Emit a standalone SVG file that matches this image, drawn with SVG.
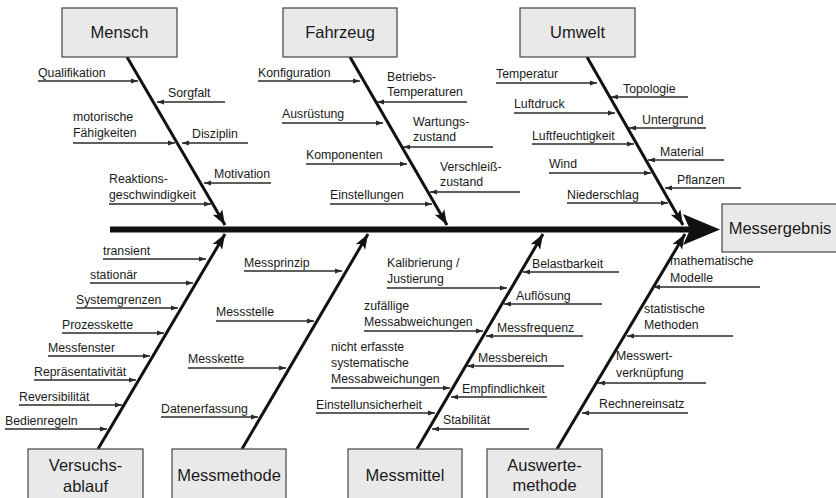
<svg xmlns="http://www.w3.org/2000/svg" width="836" height="498" viewBox="0 0 836 498">
<style>
.box{fill:#e9e9e9;stroke:#444;stroke-width:1.2}
.bt{font-family:"Liberation Sans",Arial,Helvetica,sans-serif;font-size:16.5px;fill:#1a1a1a;text-anchor:middle}
.t{font-family:"Liberation Sans",Arial,Helvetica,sans-serif;font-size:12.3px;fill:#1a1a1a}
.sub{stroke:#2a2a2a;stroke-width:1.4;fill:none;marker-end:url(#sa)}
.bone{stroke:#111;stroke-width:3;fill:none;marker-end:url(#ba)}
</style>
<defs>
<marker id="sa" markerUnits="userSpaceOnUse" markerWidth="8" markerHeight="6" refX="7" refY="2.5" orient="auto" overflow="visible"><path d="M0,0 L7,2.5 L0,5 z" fill="#2a2a2a"/></marker>
<marker id="ba" markerUnits="userSpaceOnUse" markerWidth="16" markerHeight="12" refX="15" refY="5.5" orient="auto" overflow="visible"><path d="M0,0 L15,5.5 L0,11 L3.5,5.5 z" fill="#111"/></marker>
</defs>
<rect width="836" height="498" fill="#fff"/>

<g id="connectors">
<line x1="110" y1="229.5" x2="690" y2="229.5" stroke="#111" stroke-width="6"/>
<path d="M683,214 L720,229.5 L683,245 L690,229.5 z" fill="#111"/>
<line class="bone" x1="127" y1="57" x2="225" y2="225"/>
<line class="bone" x1="350" y1="57" x2="447" y2="225"/>
<line class="bone" x1="587" y1="57" x2="683" y2="225"/>
<line class="bone" x1="98" y1="449" x2="225" y2="234"/>
<line class="bone" x1="242" y1="449" x2="368" y2="234"/>
<line class="bone" x1="417" y1="449" x2="543" y2="234"/>
<line class="bone" x1="557" y1="449" x2="685" y2="234"/>
</g>

<g id="mensch">
<rect class="box" x="62" y="8" width="115" height="49"/>
<text class="bt" x="119.5" y="38">Mensch</text>
<text class="t" x="38" y="77">Qualifikation</text><line class="sub" x1="38" y1="81" x2="138" y2="81"/>
<text class="t" x="73" y="121">motorische</text><text class="t" x="73" y="137">Fähigkeiten</text><line class="sub" x1="73" y1="143" x2="175" y2="143"/>
<text class="t" x="109" y="183">Reaktions-</text><text class="t" x="109" y="199">geschwindigkeit</text><line class="sub" x1="109" y1="204" x2="211" y2="204"/>
<text class="t" x="168" y="97">Sorgfalt</text><line class="sub" x1="225" y1="102" x2="157" y2="102"/>
<text class="t" x="192" y="138">Disziplin</text><line class="sub" x1="248" y1="143" x2="182" y2="143"/>
<text class="t" x="214" y="178">Motivation</text><line class="sub" x1="271" y1="183" x2="204" y2="183"/>
</g>

<g id="fahrzeug">
<rect class="box" x="283" y="8" width="114" height="49"/>
<text class="bt" x="340" y="38">Fahrzeug</text>
<text class="t" x="258" y="77">Konfiguration</text><line class="sub" x1="258" y1="81" x2="360" y2="81"/>
<text class="t" x="282" y="118">Ausrüstung</text><line class="sub" x1="282" y1="123" x2="383" y2="123"/>
<text class="t" x="306" y="159">Komponenten</text><line class="sub" x1="306" y1="164" x2="407" y2="164"/>
<text class="t" x="330" y="199">Einstellungen</text><line class="sub" x1="330" y1="204" x2="432" y2="204"/>
<text class="t" x="387" y="81">Betriebs-</text><text class="t" x="387" y="96">Temperaturen</text><line class="sub" x1="467" y1="102" x2="377" y2="102"/>
<text class="t" x="413" y="126">Wartungs-</text><text class="t" x="413" y="141">zustand</text><line class="sub" x1="493" y1="147" x2="403" y2="147"/>
<text class="t" x="440" y="171">Verschleiß-</text><text class="t" x="440" y="186">zustand</text><line class="sub" x1="520" y1="192" x2="430" y2="192"/>
</g>

<g id="umwelt">
<rect class="box" x="520" y="8" width="115" height="49"/>
<text class="bt" x="577.5" y="38">Umwelt</text>
<text class="t" x="496" y="78">Temperatur</text><line class="sub" x1="496" y1="83" x2="597" y2="83"/>
<text class="t" x="514" y="108">Luftdruck</text><line class="sub" x1="514" y1="113" x2="615" y2="113"/>
<text class="t" x="532" y="140">Luftfeuchtigkeit</text><line class="sub" x1="532" y1="144" x2="634" y2="144"/>
<text class="t" x="549" y="168">Wind</text><line class="sub" x1="549" y1="173" x2="651" y2="173"/>
<text class="t" x="567" y="199">Niederschlag</text><line class="sub" x1="567" y1="203" x2="668" y2="203"/>
<text class="t" x="623" y="93">Topologie</text><line class="sub" x1="688" y1="97" x2="611" y2="97"/>
<text class="t" x="642" y="124">Untergrund</text><line class="sub" x1="706" y1="128" x2="629" y2="128"/>
<text class="t" x="660" y="156">Material</text><line class="sub" x1="724" y1="160" x2="648" y2="160"/>
<text class="t" x="677" y="184">Pflanzen</text><line class="sub" x1="741" y1="188" x2="665" y2="188"/>
</g>

<g id="messergebnis">
<rect class="box" x="722" y="204" width="120" height="48"/>
<text class="bt" x="780" y="234">Messergebnis</text>
</g>

<g id="versuchsablauf">
<rect class="box" x="28" y="449" width="115" height="60"/>
<text class="bt" x="85.5" y="471">Versuchs-</text><text class="bt" x="85.5" y="492">ablauf</text>
<text class="t" x="103" y="255">transient</text><line class="sub" x1="103" y1="259" x2="206" y2="259"/>
<text class="t" x="90" y="279">stationär</text><line class="sub" x1="90" y1="283" x2="193" y2="283"/>
<text class="t" x="76" y="304">Systemgrenzen</text><line class="sub" x1="76" y1="308" x2="178" y2="308"/>
<text class="t" x="62" y="329">Prozesskette</text><line class="sub" x1="62" y1="333" x2="164" y2="333"/>
<text class="t" x="48" y="352">Messfenster</text><line class="sub" x1="48" y1="356" x2="150" y2="356"/>
<text class="t" x="34" y="376">Repräsentativität</text><line class="sub" x1="34" y1="380" x2="136" y2="380"/>
<text class="t" x="19" y="401">Reversibilität</text><line class="sub" x1="19" y1="405" x2="122" y2="405"/>
<text class="t" x="5" y="425">Bedienregeln</text><line class="sub" x1="5" y1="429" x2="107" y2="429"/>
</g>

<g id="messmethode">
<rect class="box" x="172" y="449" width="114" height="60"/>
<text class="bt" x="229" y="481">Messmethode</text>
<text class="t" x="244" y="267">Messprinzip</text><line class="sub" x1="244" y1="271" x2="342" y2="271"/>
<text class="t" x="216" y="316">Messstelle</text><line class="sub" x1="216" y1="321" x2="314" y2="321"/>
<text class="t" x="188" y="363">Messkette</text><line class="sub" x1="188" y1="368" x2="286" y2="368"/>
<text class="t" x="161" y="413">Datenerfassung</text><line class="sub" x1="161" y1="417" x2="258" y2="417"/>
</g>

<g id="messmittel">
<rect class="box" x="348" y="449" width="114" height="60"/>
<text class="bt" x="405" y="481">Messmittel</text>
<text class="t" x="387" y="267">Kalibrierung /</text><text class="t" x="387" y="283">Justierung</text><line class="sub" x1="387" y1="288" x2="507" y2="288"/>
<text class="t" x="364" y="310">zufällige</text><text class="t" x="364" y="326">Messabweichungen</text><line class="sub" x1="364" y1="331" x2="483" y2="331"/>
<text class="t" x="331" y="351">nicht erfasste</text><text class="t" x="331" y="367">systematische</text><text class="t" x="331" y="383">Messabweichungen</text><line class="sub" x1="331" y1="388" x2="450" y2="388"/>
<text class="t" x="316" y="409">Einstellunsicherheit</text><line class="sub" x1="316" y1="413" x2="435" y2="413"/>
<text class="t" x="532" y="268">Belastbarkeit</text><line class="sub" x1="619" y1="272" x2="523" y2="272"/>
<text class="t" x="516" y="300">Auflösung</text><line class="sub" x1="602" y1="304" x2="504" y2="304"/>
<text class="t" x="497" y="332">Messfrequenz</text><line class="sub" x1="583" y1="336" x2="486" y2="336"/>
<text class="t" x="478" y="362">Messbereich</text><line class="sub" x1="564" y1="366" x2="467" y2="366"/>
<text class="t" x="462" y="393">Empfindlichkeit</text><line class="sub" x1="547" y1="397" x2="451" y2="397"/>
<text class="t" x="443" y="424">Stabilität</text><line class="sub" x1="529" y1="429" x2="432" y2="429"/>
</g>

<g id="auswertemethode">
<rect class="box" x="487" y="449" width="115" height="60"/>
<text class="bt" x="544.5" y="471">Auswerte-</text><text class="bt" x="544.5" y="491">methode</text>
<text class="t" x="670" y="265">mathematische</text><text class="t" x="670" y="282">Modelle</text><line class="sub" x1="760" y1="287" x2="653" y2="287"/>
<text class="t" x="644" y="313">statistische</text><text class="t" x="644" y="329">Methoden</text><line class="sub" x1="733" y1="336" x2="627" y2="336"/>
<text class="t" x="616" y="360">Messwert-</text><text class="t" x="616" y="377">verknüpfung</text><line class="sub" x1="706" y1="383" x2="598" y2="383"/>
<text class="t" x="599" y="408">Rechnereinsatz</text><line class="sub" x1="688" y1="413" x2="582" y2="413"/>
</g>
</svg>
